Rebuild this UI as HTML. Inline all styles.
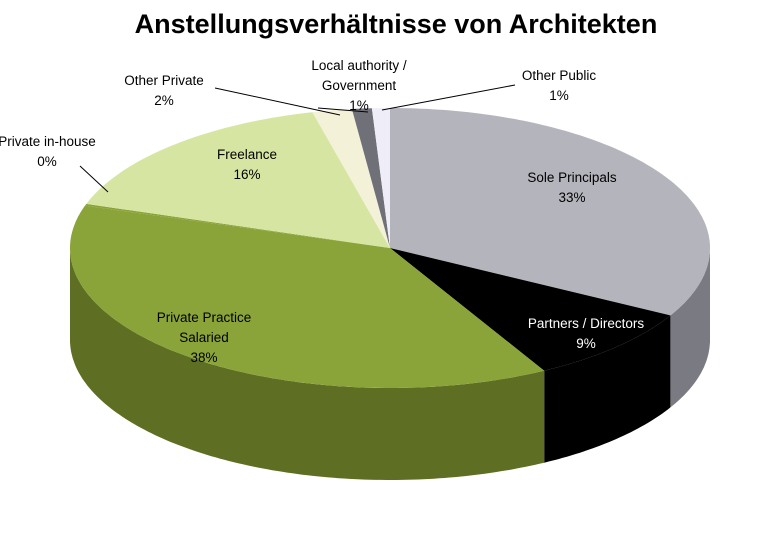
<!DOCTYPE html>
<html><head><meta charset="utf-8"><style>
body{margin:0;background:#fff}
svg text{font-family:"Liberation Sans",sans-serif}
</style></head><body>
<svg id="c" width="783" height="542">
<text x="396" y="33" text-anchor="middle" font-size="27" font-weight="bold">Anstellungsverhältnisse von Architekten</text>
<g id="sides"></g><g id="tops"></g><g id="labels"></g>
</svg>
<script>
const categories=["Sole Principals","Partners / Directors","Private Practice Salaried","Private in-house","Freelance","Other Private","Local authority / Government","Other Public"];
const values=[33.0,9.0,37.9,0.2,16.0,2.0,1.0,0.9];
const pctLabels=["33%","9%","38%","0%","16%","2%","1%","1%"];
const topColors=["#b4b4bc","#000000","#8aa43a","#8aa43a","#d6e6a2","#f3f1d8","#707078","#efeef8"];
const sideColors=["#7a7a82","#000000","#5e6e22","#5e6e22","#a8b878","#c8c6b0","#505058","#c8c8d4"];
const cx=390,cy=248,rx=320,ry=140,depth=92;
const NS="http://www.w3.org/2000/svg";
function pt(a){return [cx+rx*Math.sin(a),cy-ry*Math.cos(a)];}
function arc(a1,a2,dy){let s="";const n=Math.max(2,Math.ceil((a2-a1)*60));for(let i=0;i<=n;i++){const a=a1+(a2-a1)*i/n;const p=pt(a);s+=(i?"L":"")+p[0].toFixed(1)+","+(p[1]+dy).toFixed(1);}return s;}
const total=values.reduce((a,b)=>a+b,0);
let acc=0;const sides=document.getElementById('sides'),tops=document.getElementById('tops');
values.forEach((v,i)=>{
  const a1=acc/total*2*Math.PI;acc+=v;const a2=acc/total*2*Math.PI;
  const s1=Math.max(a1,Math.PI/2),s2=Math.min(a2,Math.PI*1.5);
  if(s2>s1){
    const p=document.createElementNS(NS,'path');
    const fwd=arc(s1,s2,0);
    let back="";const n=Math.max(2,Math.ceil((s2-s1)*60));
    for(let k=n;k>=0;k--){const a=s1+(s2-s1)*k/n;const q=pt(a);back+="L"+q[0].toFixed(1)+","+(q[1]+depth).toFixed(1);}
    p.setAttribute('d',"M"+fwd+back+"Z");
    p.setAttribute('fill',sideColors[i]);
    
    
    sides.appendChild(p);
  }
  const t=document.createElementNS(NS,'path');
  t.setAttribute('d',"M"+cx+","+cy+"L"+arc(a1,a2,0)+"Z");
  t.setAttribute('fill',topColors[i]);
  
  
  tops.appendChild(t);
});
const labels=document.getElementById('labels');
const labelPos=[[572,182,"#000"],[586,328,"#fff"],[204,322,"#000"],[47,146,"#000"],[247,159,"#000"],[164,85,"#000"],[359,70,"#000"],[559,80,"#000"]];
labelPos.forEach((lp,i)=>{
  const t=document.createElementNS(NS,'text');
  t.setAttribute('text-anchor','middle');t.setAttribute('font-size','13.5');t.setAttribute('fill',lp[2]);
  
  
  let lines=categories[i]==="Private Practice Salaried"?["Private Practice","Salaried"]:categories[i]==="Local authority / Government"?["Local authority /","Government"]:[categories[i]];
  lines.push(pctLabels[i]);
  lines.forEach((l,k)=>{const s=document.createElementNS(NS,'tspan');s.setAttribute('x',lp[0]);s.setAttribute('y',lp[1]+k*20);s.textContent=l;t.appendChild(s);});
  labels.appendChild(t);
});
const leaders=[[80,166,108,192],[215,88,340,115],[318,108,368,112],[515,85,382,110]];
leaders.forEach(l=>{const e=document.createElementNS(NS,'line');e.setAttribute('x1',l[0]);e.setAttribute('y1',l[1]);e.setAttribute('x2',l[2]);e.setAttribute('y2',l[3]);e.setAttribute('stroke','#000');


labels.appendChild(e);});
</script>
</body></html>
